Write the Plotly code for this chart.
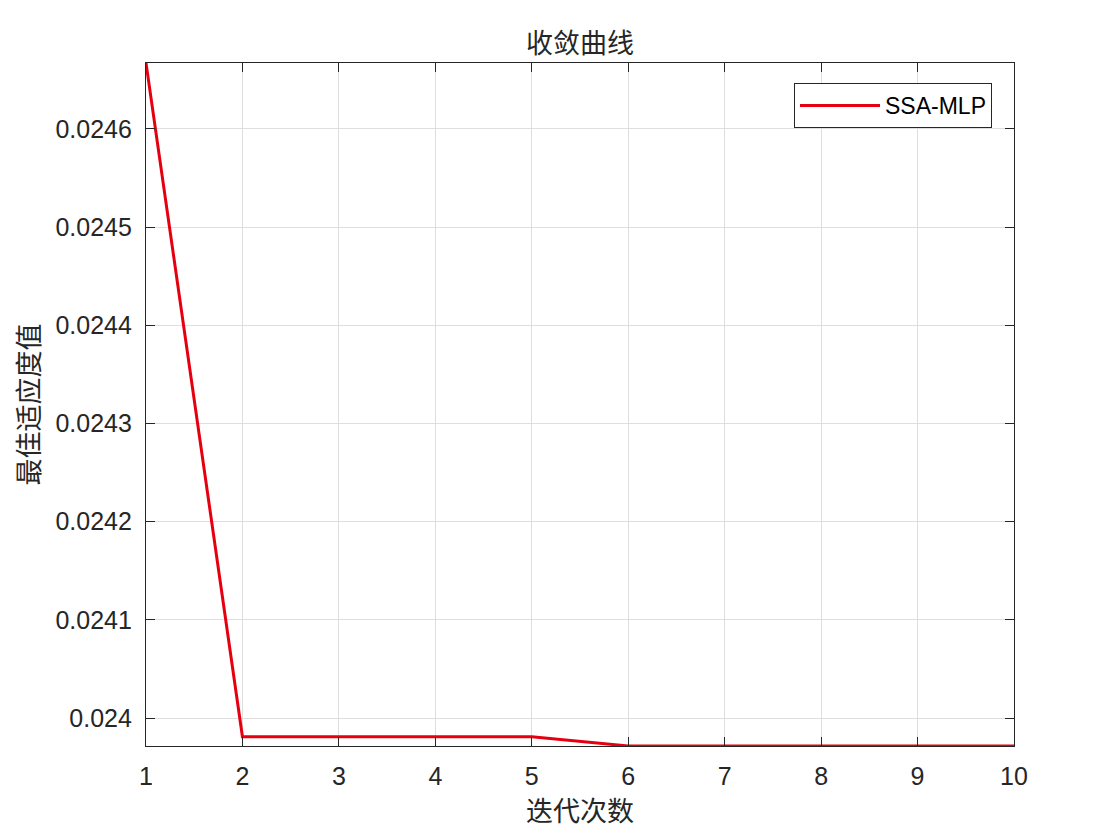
import plotly.graph_objects as go

iterations = [1, 2, 3, 4, 5, 6, 7, 8, 9, 10]
fitness = [0.0246672, 0.0239810, 0.0239810, 0.0239810, 0.0239810,
           0.0239715, 0.0239715, 0.0239715, 0.0239715, 0.0239715]
y_ticks = [0.024, 0.0241, 0.0242, 0.0243, 0.0244, 0.0245, 0.0246]
y_ticktext = ["0.024", "0.0241", "0.0242", "0.0243", "0.0244", "0.0245", "0.0246"]

W, H = 1104, 824
L, T, R, B = 138, 55, 98, 86

fig = go.Figure()
fig.add_trace(go.Scatter(x=iterations, y=fitness, mode="lines", name="SSA-MLP",
                         line=dict(color="#e6000f", width=3)))

axis_common = dict(showline=True, linecolor="#262626", linewidth=1.2, mirror="ticks",
                   ticks="inside", ticklen=9, tickcolor="#262626",
                   showgrid=True, gridcolor="#dedede", gridwidth=1, zeroline=False,
                   ticklabelstandoff=8,
                   tickfont=dict(family="Liberation Sans, Arial", size=25, color="#262626"))

cjk = "Noto Sans CJK SC"
fig.update_layout(
    width=W, height=H,
    paper_bgcolor="white", plot_bgcolor="white",
    margin=dict(l=L, t=T, r=R, b=B),
    title=dict(text="收敛曲线", x=(L + (W - R)) / 2 / W, xanchor="center",
               y=1 - 36 / H, yanchor="middle",
               font=dict(family=cjk, size=27, color="#262626")),
    xaxis=dict(range=[1, 10], tickvals=iterations, **axis_common,
               title=dict(text="迭代次数", standoff=10,
                          font=dict(family=cjk, size=27, color="#262626"))),
    yaxis=dict(range=[0.0239715, 0.0246672], tickvals=y_ticks, ticktext=y_ticktext, **axis_common,
               title=dict(text="最佳适应度值", standoff=14,
                          font=dict(family=cjk, size=27, color="#262626"))),
    legend=dict(x=(984 - L) / (W - L - R), y=1 - (75 - T) / (H - T - B),
                xanchor="right", yanchor="top", itemwidth=80,
                bgcolor="white", bordercolor="#262626", borderwidth=1,
                font=dict(family="Liberation Sans, Arial", size=23, color="black")),
    showlegend=True,
)

fig.write_html("out.html")
